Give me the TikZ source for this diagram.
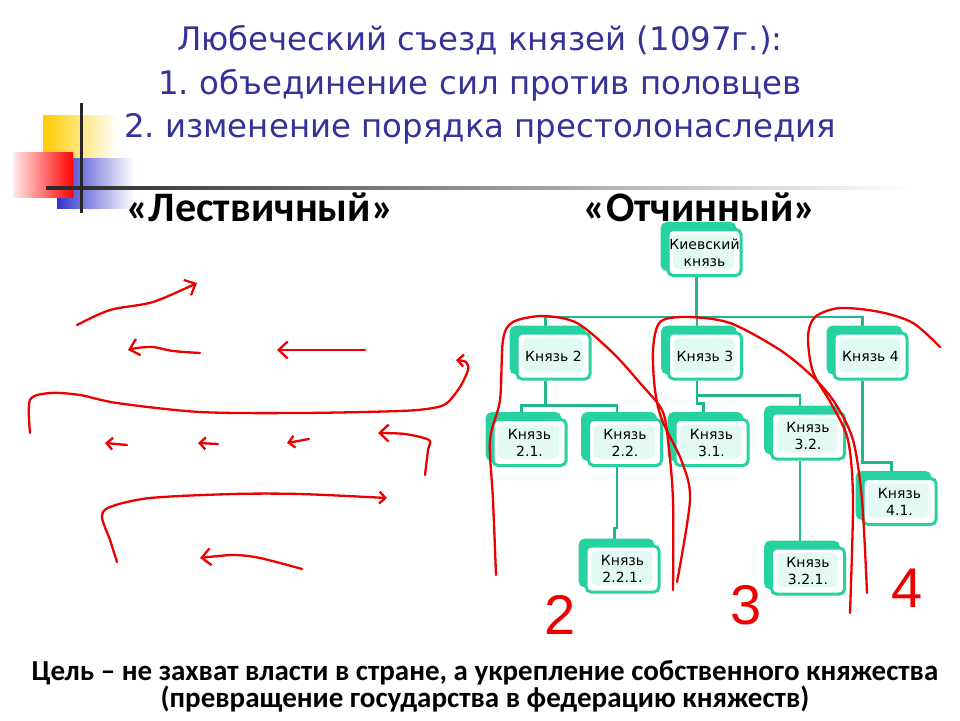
\documentclass[tikz,border=0pt]{standalone}
\usepackage{fontspec}
\setmainfont{Liberation Sans}
\newfontfamily\calfont{Carlito}
\newfontfamily\tahfont{DejaVu Sans}
\frenchspacing
\usetikzlibrary{arrows.meta}
\usetikzlibrary{shadows}
\usetikzlibrary{backgrounds}
\definecolor{titleblue}{RGB}{51,51,153}
\definecolor{kgreen}{RGB}{38,210,160}
\definecolor{klink}{RGB}{34,182,140}
\definecolor{kmint}{RGB}{226,250,243}
\definecolor{sqyellow}{RGB}{255,204,0}
\definecolor{sqblue}{RGB}{51,51,204}
\definecolor{sqred}{RGB}{255,0,0}
\definecolor{inkred}{RGB}{236,0,0}

\tikzset{
 titletext/.style={titleblue, inner sep=0, anchor=base, font=\tahfont\fontsize{32.4}{40}\selectfont},
 headtext/.style={black, inner sep=0, anchor=base, font=\calfont\bfseries\fontsize{42}{44}\selectfont},
 goaltext/.style={black, inner sep=0, anchor=base, font=\calfont\bfseries\fontsize{29}{32}\selectfont},
 kbox/.style={draw=kgreen, line width=3pt, fill=white, rounded corners=5pt,
  minimum width=73pt, minimum height=46pt, inner sep=1pt, align=center,
  font=\tahfont\fontsize{14}{17}\selectfont,
  path picture={\fill[kmint] ([shift={(5pt,-5pt)}]path picture bounding box.north west)
   rectangle ([shift={(-7pt,7pt)}]path picture bounding box.south east);},
  copy shadow={shadow xshift=-6pt, shadow yshift=6pt, fill=kgreen, draw=kgreen}},
 link/.style={klink, line width=2.8pt},
 ink/.style={inkred, line width=2.3pt, line cap=round, line join=round},
 bigbarb/.style={-{Straight Barb[length=9pt,width=17pt]}},
 smallbarb/.style={-{Straight Barb[length=6pt,width=12pt]}},
 digit/.style={inkred, inner sep=0, font=\fontsize{56}{60}\selectfont}
}

\begin{document}
\begin{tikzpicture}[x=1pt,y=-1pt]
\useasboundingbox (0,0) rectangle (960,720);
% corner squares
\shade[left color=sqyellow, middle color=sqyellow!85, right color=white] (43,115) rectangle (118,160);
\shade[left color=sqblue, middle color=sqblue!80, right color=white] (57,158) rectangle (134,208);
\shade[left color=sqred!8, right color=sqred] (13,152) rectangle (73,197);
\shade[left color=black!85, middle color=black!75, right color=white] (46,186.5) rectangle (910,189.5);
\draw[black!85, line width=3pt] (81,103) -- (81,213);

% title
\node[titletext] (t1) at (480,50) {Любеческий съезд князей (1097г.):};
\node[titletext] (t2) at (480,94) {1. объединение сил против половцев};
\node[titletext] (t3) at (480,137) {2. изменение порядка престолонаследия};
\node[headtext] (ladder) at (260,221) {«Лествичный»};
\node[headtext] (otchin) at (700,221) {«Отчинный»};

% tree
\node[kbox] (kiev) at (704.5,252.5) {Киевский\\князь};
\node[kbox] (k2) at (553.5,356) {Князь 2};
\node[kbox] (k3) at (705,356) {Князь 3};
\node[kbox] (k4) at (870.5,356) {Князь 4};
\node[kbox] (k21) at (529.5,442.5) {Князь\\2.1.};
\node[kbox] (k22) at (625,442.5) {Князь\\2.2.};
\node[kbox] (k221) at (622.5,569) {Князь\\2.2.1.};
\node[kbox] (k31) at (711.5,442.5) {Князь\\3.1.};
\node[kbox] (k32) at (808,436) {Князь\\3.2.};
\node[kbox] (k321) at (808,571) {Князь\\3.2.1.};
\node[kbox] (k41) at (899.5,501.5) {Князь\\4.1.};

\begin{scope}[on background layer]
\draw[link] ([xshift=-8pt]kiev.south) -- ++(0,40) coordinate (bus1);
\draw[link] ([xshift=-8pt]k2.north) |- (bus1) -| ([xshift=-8pt]k4.north);
\draw[link] ([xshift=-8pt]k3.north) |- (bus1);
\draw[link] ([xshift=-8pt]k2.south) -- ++(0,25) coordinate (bus2);
\draw[link] ([xshift=-8pt]k21.north) |- (bus2) -| ([xshift=-8pt]k22.north);
\draw[link] ([xshift=-8pt]k22.south) -- ++(0,61) -| ([xshift=-8pt]k221.north);
\draw[link] ([xshift=-8pt]k3.south) -- ++(0,23) -| ([xshift=-8pt]k31.north);
\draw[link] ([xshift=-8pt]k3.south) -- ++(0,15) -| ([xshift=-8pt]k32.north);
\draw[link] ([xshift=-8pt]k32.south) -- ([xshift=-8pt]k321.north);
\draw[link] ([xshift=-8pt]k4.south) -- ++(0,82) -| ([xshift=-8pt]k41.north);
\end{scope}

% red marks, left
\draw[ink, bigbarb] plot[smooth] coordinates {(77,325) (110,310) (153,302) (197,283)};
\draw[ink, bigbarb] plot[smooth] coordinates {(200,353) (173,351) (153,347) (137,348) (128,350)};
\draw[ink, bigbarb] (365,350) -- (277,350);
\draw[ink, smallbarb] plot[smooth] coordinates {(30,433) (30,400) (50,393) (80,395) (117,403) (200,412) (300,413) (400,411) (433,408) (447,403) (460,387) (468,370) (466,362) (456,360)};
\foreach \xa/\ya/\xb/\yb in {127/445/105/443, 218/444/198/443, 309/439/287/443}
 \draw[ink, smallbarb] (\xa,\ya) -- (\xb,\yb);
\draw[ink, bigbarb] plot[smooth] coordinates {(425,475) (428,450) (429,440) (405,434) (378,433)};
\draw[ink, smallbarb] plot[smooth] coordinates {(117,562) (110,540) (102,517) (110,507) (150,498) (233,494) (300,494) (387,498)};
\draw[ink, bigbarb] plot[smooth] coordinates {(302,569) (260,558) (233,555) (200,558)};

% red marks, right
\draw[ink] plot[smooth] coordinates {(496,575) (493,500) (490,440) (500,400) (503,340) (513,322) (543,316) (577,323) (613,353) (640,383) (662,410) (668,440) (673,500) (673,590)};
\draw[ink] plot[smooth] coordinates {(677,582) (690,500) (682,462) (662,420) (655,390) (653,350) (660,322) (687,317) (730,323) (780,350) (813,377) (835,403) (853,440) (862,500) (867,593)};
\draw[ink] plot[smooth] coordinates {(850,613) (853,500) (848,440) (832,405) (813,372) (808,337) (815,317) (840,308) (880,312) (913,323) (940,347)};
\node[digit] (n2) at (560,615) {2};
\node[digit] (n3) at (746,605) {3};
\node[digit] (n4) at (907,588) {4};

% goal
\node[goaltext] (goal1) at (485,680) {Цель – не захват власти в стране, а укрепление собственного княжества};
\node[goaltext] (goal2) at (485,707) {(превращение государства в федерацию княжеств)};
\end{tikzpicture}
\end{document}
